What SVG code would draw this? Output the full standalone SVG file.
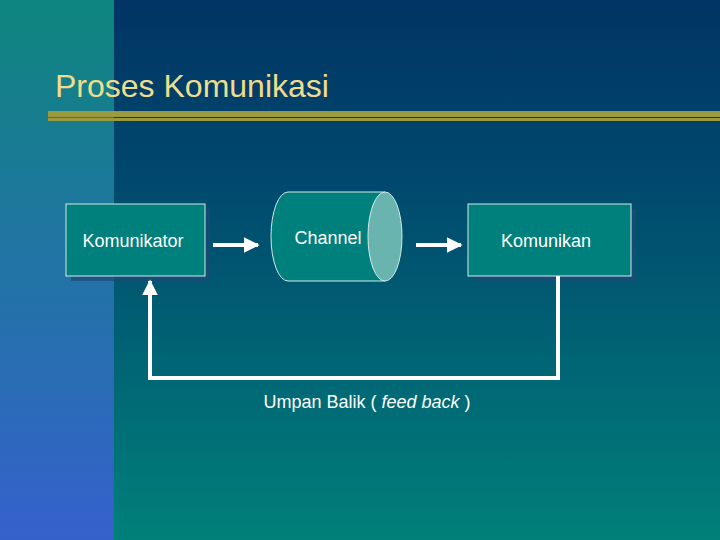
<svg xmlns="http://www.w3.org/2000/svg" width="720" height="540" viewBox="0 0 720 540">
<defs>
<linearGradient id="bg" x1="0" y1="0" x2="0" y2="1"><stop offset="0" stop-color="#003464"/><stop offset="0.35" stop-color="#004a6e"/><stop offset="1" stop-color="#00807a"/></linearGradient>
<linearGradient id="side" x1="0" y1="0" x2="0" y2="1"><stop offset="0" stop-color="#0e857e"/><stop offset="1" stop-color="#3561cc"/></linearGradient>
<marker id="ah" viewBox="0 0 10 10" refX="9" refY="5" markerWidth="4" markerHeight="4" orient="auto" markerUnits="strokeWidth"><path d="M0,0 L10,5 L0,10 z" fill="#fff"/></marker>
<style>
.box{fill:#00807c;stroke:#d8e8e8;stroke-width:1}
.sh{fill:#1a4a78;opacity:0.7}
.t{font-family:"Liberation Sans",Arial,sans-serif;font-size:18px;fill:#fff}
.c{stroke:#fff;stroke-width:4;fill:none}
</style>
</defs>
<rect width="720" height="540" fill="url(#bg)"/>
<rect width="114" height="540" fill="url(#side)"/>
<text x="55" y="97" font-family="'Liberation Sans',Arial,sans-serif" font-size="32" fill="#f0dc8c">Proses Komunikasi</text>
<rect x="48" y="111" width="672" height="6" fill="#9a9a40"/>
<rect x="48" y="118" width="672" height="3" fill="#9a9a40"/>
<g id="komunikator"><rect class="sh" x="71" y="209" width="139" height="72"/><rect class="box" x="66" y="204" width="139" height="72"/><text class="t" x="133" y="247" text-anchor="middle">Komunikator</text></g>
<g id="channel"><path d="M288,192 L385,192 L385,281 L288,281 A17,44.5 0 0 1 288,192 z" fill="#00807c" stroke="#d8e8e8"/><ellipse cx="385" cy="236.5" rx="17" ry="44.5" fill="#6ab4b0" stroke="#d8e8e8"/><text class="t" x="328" y="244" text-anchor="middle">Channel</text></g>
<g id="komunikan"><rect class="sh" x="473" y="209" width="163" height="72"/><rect class="box" x="468" y="204" width="163" height="72"/><text class="t" x="546" y="247" text-anchor="middle">Komunikan</text></g>
<g id="connectors">
<line class="c" x1="213" y1="245" x2="258" y2="245" marker-end="url(#ah)"/>
<line class="c" x1="416" y1="245" x2="461" y2="245" marker-end="url(#ah)"/>
<polyline class="c" points="558,276 558,378 150,378 150,281" marker-end="url(#ah)"/>
</g>
<text class="t" x="367" y="408" text-anchor="middle">Umpan Balik ( <tspan font-style="italic">feed back</tspan> )</text>
</svg>
